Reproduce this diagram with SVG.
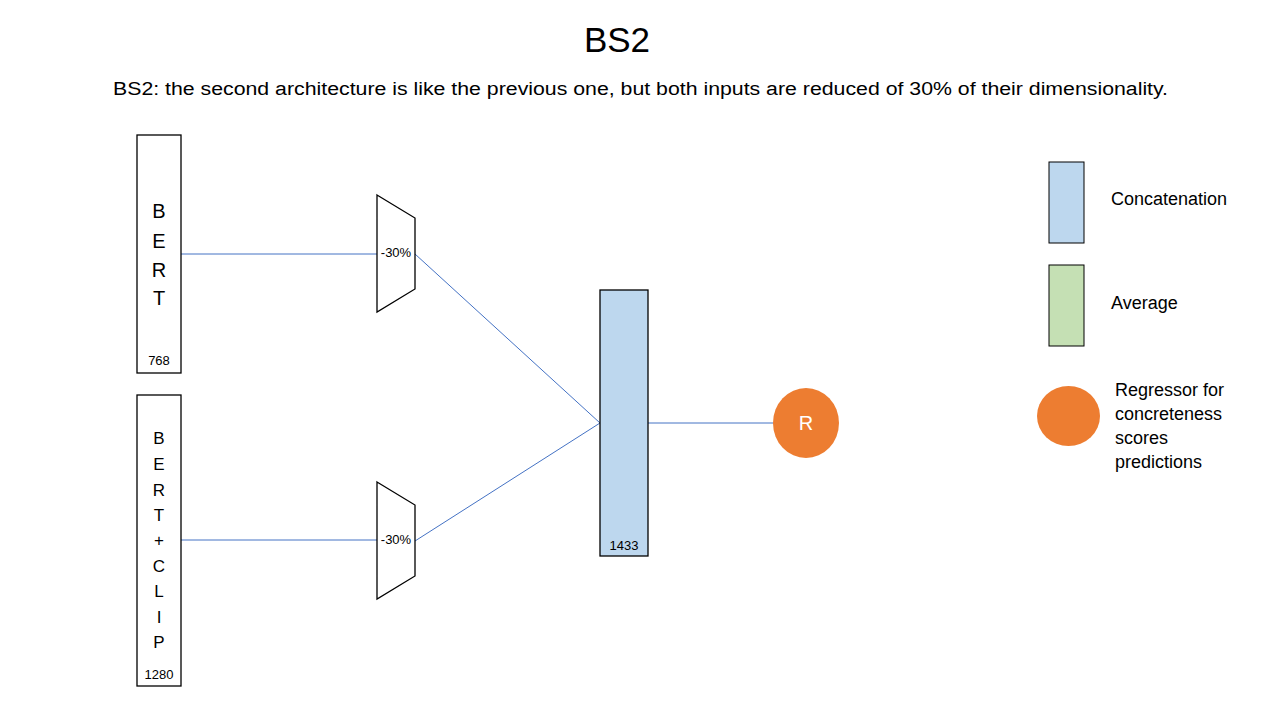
<svg xmlns="http://www.w3.org/2000/svg" width="1280" height="720" viewBox="0 0 1280 720">
<style>
.t{font-family:"Liberation Sans",Arial,sans-serif;fill:#000}
.box{fill:#fff;stroke:#000;stroke-width:1.3}
.conn{stroke:#4472C4;stroke-width:1;fill:none}
.letter{font-size:20px;text-anchor:middle}
.letter2{font-size:17px;text-anchor:middle}
.num{font-size:13px;text-anchor:middle}
.leg{font-size:18px}
</style>
<rect width="1280" height="720" fill="#fff"/>
<text class="t" x="617" y="52" font-size="35" text-anchor="middle">BS2</text>
<text class="t" x="113" y="95" font-size="18" textLength="1055" lengthAdjust="spacingAndGlyphs">BS2: the second architecture is like the previous one, but both inputs are reduced of 30% of their dimensionality.</text>

<g id="connectors">
<line class="conn" x1="181" y1="254" x2="377" y2="254"/>
<line class="conn" x1="415" y1="254" x2="600" y2="423"/>
<line class="conn" x1="181" y1="540" x2="377" y2="540"/>
<line class="conn" x1="415" y1="541" x2="600" y2="423"/>
<line class="conn" x1="648" y1="423" x2="773" y2="423"/>
</g>

<g id="bert">
<rect class="box" x="137" y="135" width="44" height="238"/>
<text class="t letter" x="159" y="218">B</text>
<text class="t letter" x="159" y="248">E</text>
<text class="t letter" x="159" y="277">R</text>
<text class="t letter" x="159" y="305">T</text>
<text class="t num" x="159" y="365">768</text>
</g>

<g id="bertclip">
<rect class="box" x="137" y="395" width="44" height="291"/>
<text class="t letter2" x="159" y="444">B</text>
<text class="t letter2" x="159" y="470">E</text>
<text class="t letter2" x="159" y="496">R</text>
<text class="t letter2" x="159" y="521">T</text>
<text class="t letter2" x="159" y="546">+</text>
<text class="t letter2" x="159" y="572">C</text>
<text class="t letter2" x="159" y="597">L</text>
<text class="t letter2" x="159" y="623">I</text>
<text class="t letter2" x="159" y="648">P</text>
<text class="t num" x="159" y="679">1280</text>
</g>

<g id="reduce1">
<polygon class="box" points="377,195 415,218 415,289 377,312"/>
<text class="t num" x="396" y="257">-30%</text>
</g>

<g id="reduce2">
<polygon class="box" points="377,482 415,505 415,576 377,599"/>
<text class="t num" x="396" y="544">-30%</text>
</g>

<g id="concat">
<rect x="600" y="290" width="48" height="266" fill="#BDD7EE" stroke="#000" stroke-width="1.3"/>
<text class="t num" x="624" y="550">1433</text>
</g>

<g id="regressor">
<ellipse cx="806" cy="423" rx="33" ry="35" fill="#ED7D31"/>
<text class="t" x="806" y="430" font-size="20" text-anchor="middle" style="fill:#fff">R</text>
</g>

<g id="legend">
<rect x="1049" y="162" width="35" height="81" fill="#BDD7EE" stroke="#000" stroke-width="1"/>
<text class="t leg" x="1111" y="205">Concatenation</text>
<rect x="1049" y="265" width="35" height="81" fill="#C5E0B4" stroke="#000" stroke-width="1"/>
<text class="t leg" x="1111" y="309">Average</text>
<ellipse cx="1068.5" cy="416" rx="31.5" ry="30" fill="#ED7D31"/>
<text class="t leg" x="1115" y="396">Regressor for</text>
<text class="t leg" x="1115" y="420">concreteness</text>
<text class="t leg" x="1115" y="444">scores</text>
<text class="t leg" x="1115" y="468">predictions</text>
</g>
</svg>
